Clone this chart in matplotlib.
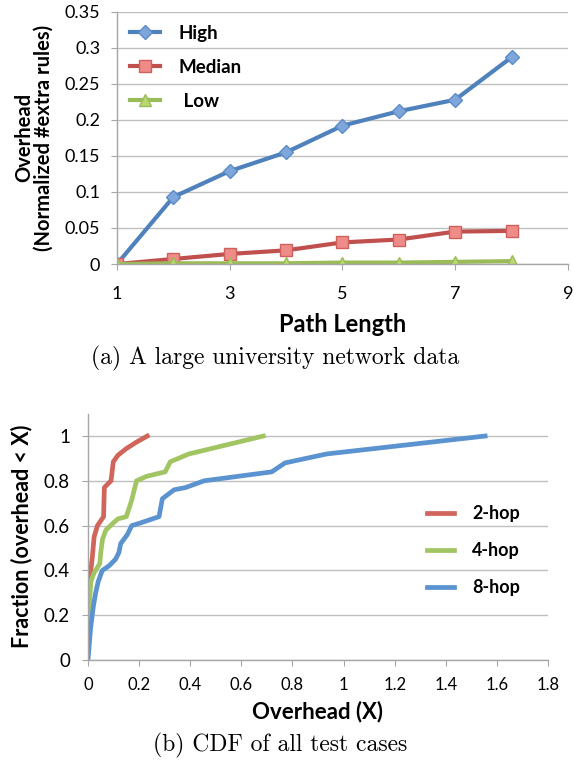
import numpy as np
import matplotlib
matplotlib.use("Agg")
import matplotlib.pyplot as plt

plt.rcParams['font.family'] = ['Lato', 'DejaVu Sans']

# (a) overhead vs path length
path_len = [1, 2, 3, 4, 5, 6, 7, 8]
high = [0.0, 0.093, 0.129, 0.155, 0.192, 0.212, 0.228, 0.287]
median = [0.0, 0.007, 0.014, 0.019, 0.030, 0.034, 0.045, 0.046]
low = [0.0, 0.001, 0.001, 0.001, 0.002, 0.002, 0.003, 0.004]

# (b) CDF of overhead
hop2_x = [0.0, 0.007, 0.017, 0.024, 0.037, 0.061, 0.064, 0.081, 0.090, 0.099, 0.117, 0.150, 0.190, 0.232]
hop2_y = [0.20, 0.36, 0.46, 0.55, 0.60, 0.64, 0.77, 0.79, 0.80, 0.885, 0.914, 0.944, 0.973, 1.0]
hop4_x = [0.0, 0.011, 0.024, 0.046, 0.050, 0.057, 0.070, 0.097, 0.117, 0.150, 0.170, 0.190, 0.229, 0.302, 0.322, 0.395, 0.686]
hop4_y = [0.14, 0.35, 0.39, 0.43, 0.48, 0.54, 0.58, 0.61, 0.63, 0.64, 0.71, 0.80, 0.82, 0.84, 0.885, 0.92, 1.0]
hop8_x = [0.0, 0.010, 0.021, 0.030, 0.040, 0.056, 0.082, 0.108, 0.121, 0.128, 0.154, 0.171, 0.200, 0.278, 0.291, 0.337, 0.382, 0.454, 0.719, 0.771, 0.934, 1.554]
hop8_y = [0.0, 0.14, 0.24, 0.30, 0.35, 0.40, 0.42, 0.45, 0.48, 0.52, 0.56, 0.60, 0.61, 0.64, 0.72, 0.76, 0.77, 0.80, 0.84, 0.88, 0.92, 1.0]

blue = '#4F81BD'
red = '#C0504D'
green = '#9BBB59'
grid_c = '#BFBFBF'

fig = plt.figure(figsize=(5.74, 7.72), dpi=100)

def style(ax):
    for s in ['top', 'right']:
        ax.spines[s].set_visible(False)
    for s in ['left', 'bottom']:
        ax.spines[s].set_color('#A6A6A6')
        ax.spines[s].set_linewidth(1.0)
    ax.yaxis.grid(True, color=grid_c, linewidth=1.0)
    ax.set_axisbelow(True)
    ax.tick_params(axis='both', colors='#A6A6A6', labelcolor='black', length=4)

# top chart
ax1 = fig.add_axes([0.2038, 0.658, 0.7857, 0.3267])
style(ax1)
ax1.plot(path_len, high, color=blue, lw=3, marker='D', ms=7, mfc='#7EA6DB', mec='#5B8CC9', label='High')
ax1.plot(path_len, median, color=red, lw=3, marker='s', ms=8.5, mfc='#EF8C89', mec='#D0605C', label='Median')
ax1.plot(path_len, low, color=green, lw=3, marker='^', ms=9, mfc='#B8D870', mec='#9BBB59', label=' Low')
ax1.set_xlim(1, 9)
ax1.set_ylim(0, 0.35)
ax1.set_xticks([1, 3, 5, 7, 9])
ax1.set_yticks([0, 0.05, 0.1, 0.15, 0.2, 0.25, 0.3, 0.35])
ax1.set_yticklabels(['0', '0.05', '0.1', '0.15', '0.2', '0.25', '0.3', '0.35'])
ax1.tick_params(labelsize=13)
ax1.tick_params(axis='x', pad=12)
ax1.tick_params(axis='y', pad=8)
ax1.set_xlabel('Path Length', fontsize=17, fontweight='bold', labelpad=8)
ax1.set_ylabel('Overhead\n(Normalized #extra rules)', fontsize=14.5, fontweight='bold', labelpad=8, linespacing=0.95)
ax1.legend(loc='upper left', frameon=False, prop={'weight': 'bold', 'size': 13.5},
           handlelength=1.6, labelspacing=0.9, borderaxespad=0.3, handletextpad=1.0)

fig.text(0.479, 1 - 358 / 772, '(a) A large university network data', ha='center', va='center',
         fontsize=17, family='cmr10')

# bottom chart
ax2 = fig.add_axes([0.1533, 0.1451, 0.8014, 0.3191])
style(ax2)
ax2.plot(hop2_x, hop2_y, color='#D0655B', lw=3.4, label='2-hop')
ax2.plot(hop4_x, hop4_y, color='#A2C563', lw=3.4, label='4-hop')
ax2.plot(hop8_x, hop8_y, color='#5B93D0', lw=3.4, label='8-hop')
ax2.set_xlim(0, 1.8)
ax2.set_ylim(0, 1.1)
ax2.set_xticks(np.arange(0, 1.81, 0.2))
ax2.set_xticklabels(['0', '0.2', '0.4', '0.6', '0.8', '1', '1.2', '1.4', '1.6', '1.8'])
ax2.set_yticks([0, 0.2, 0.4, 0.6, 0.8, 1.0])
ax2.set_yticklabels(['0', '0.2', '0.4', '0.6', '0.8', '1'])
ax2.tick_params(axis='x', labelsize=12, pad=8)
ax2.tick_params(axis='y', labelsize=13.5, pad=9)
ax2.set_xlabel('Overhead (X)', fontsize=16, fontweight='bold', labelpad=6)
ax2.set_ylabel('Fraction (overhead < X)', fontsize=15.5, fontweight='bold', labelpad=8)
ax2.legend(loc='center left', bbox_to_anchor=(0.702, 0.444), frameon=False,
           prop={'weight': 'bold', 'size': 13}, handlelength=1.5, labelspacing=1.1, handletextpad=1.0)

fig.text(0.488, 1 - 745 / 772, '(b) CDF of all test cases', ha='center', va='center',
         fontsize=17, family='cmr10')

fig.savefig('out.png', dpi=100)
